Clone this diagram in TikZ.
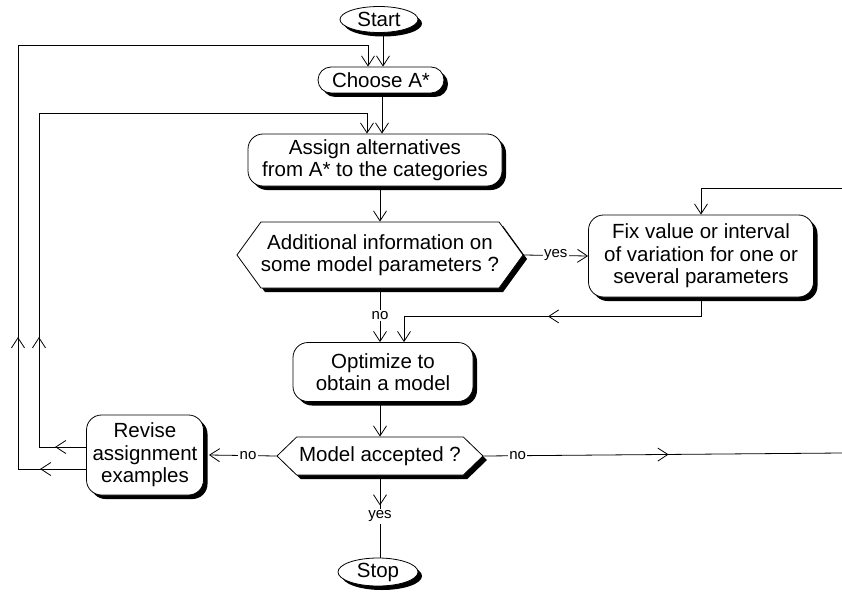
\documentclass[tikz,border=0pt]{standalone}
\usepackage{fontspec}
\setmainfont{Liberation Sans}
\usetikzlibrary{arrows.meta,shapes.geometric,shapes.misc,shapes.symbols,shadows,decorations.markings}
\newcommand\dgmmain{\fontsize{20.5}{22.5}\selectfont}
\newcommand\dgmlab{\fontsize{15}{17}\selectfont}
\tikzset{
  >={Straight Barb[length=10pt,width=13pt]},
  shad/.style={drop shadow={shadow xshift=4pt,shadow yshift=-4pt,fill=black,opacity=1}},
  base/.style={draw, fill=white, line width=0.8pt, align=center, font=\dgmmain, inner sep=0pt, shad},
  box/.style={base, rounded corners=15pt},
  terminal/.style={base, ellipse},
  pill/.style={base, rounded rectangle},
  decision/.style={base, signal, signal to=west and east},
  conn/.style={draw, line width=0.8pt},
  lab/.style={fill=white, inner sep=1.5pt, font=\dgmlab},
  midtip/.style={postaction={decorate, decoration={markings, mark=at position #1 with {\arrow{>}}}}}
}
\begin{document}
\begin{tikzpicture}[x=1pt,y=-1pt]
\useasboundingbox (0,0) rectangle (842,591);
% nodes
\node[terminal, minimum width=78pt, minimum height=26pt] (start) at (379,19.5) {Start};
\node[pill, minimum width=126pt, minimum height=26pt] (choose) at (381,80) {Choose A*};
\node[box, minimum width=254pt, minimum height=52pt] (assign) at (375,160) {Assign alternatives\\from A* to the categories};
\node[decision, minimum width=286pt, minimum height=66pt, signal pointer angle=108] (dec) at (380,255) {Additional information on\\some model parameters ?};
\node[box, minimum width=225pt, minimum height=82pt] (fix) at (701,256) {Fix value or interval\\of variation for one or\\several parameters};
\node[box, minimum width=180pt, minimum height=59pt] (opt) at (383,372) {Optimize to\\obtain a model};
\node[decision, minimum width=206pt, minimum height=38pt, signal pointer angle=88] (model) at (380,456) {Model accepted ?};
\node[box, minimum width=117pt, minimum height=80pt] (revise) at (145,455) {Revise\\assignment\\examples};
\node[terminal, minimum width=80pt, minimum height=28pt] (stop) at (378,572) {Stop};
% free ends
\coordinate (loopA) at (18,45);
\coordinate (loopB) at (39,113);
\coordinate (inR) at (842,188);
\coordinate (outR) at (842,453);
% connectors
\draw[conn,->] ([xshift=2pt]choose.north |- start.south) -- ([xshift=2pt]choose.north);
\draw[conn,->] ([xshift=1pt]choose.south) -- ([xshift=1pt]choose.south |- assign.north);
\draw[conn,->] (dec.north |- assign.south) -- (dec.north);
\draw[conn,->] (dec.east) -- node[lab]{yes} (fix.west);
\draw[conn,->] (dec.south) -- node[lab,pos=0.51]{no} (dec.south |- opt.north);
\draw[conn,->,midtip=172pt] (fix.south) -- ++(0,19) -| ([xshift=21pt]opt.north);
\draw[conn,->] (inR) -| (fix.north);
\draw[conn,->] (model.north |- opt.south) -- (model.north);
\draw[conn,->] (model.west) -- node[lab,pos=0.42]{no} ([xshift=5pt]revise.east);
\draw[conn,midtip=185pt] (model.east) -- node[lab,pos=0.095]{no} (outR);
\draw[conn,midtip=30pt] (model.south) -- node[lab,pos=0.5]{yes} (model.south |- stop.north);
\draw[conn,->,midtip=46pt,midtip=200pt] ([yshift=-14pt]revise.west) -| (loopA) -| ([xshift=-13pt]choose.north);
\draw[conn,->,midtip=31pt,midtip=157pt] ([yshift=8pt]revise.west) -| (loopB) -| ([xshift=-8pt]assign.north);
\end{tikzpicture}
\end{document}
